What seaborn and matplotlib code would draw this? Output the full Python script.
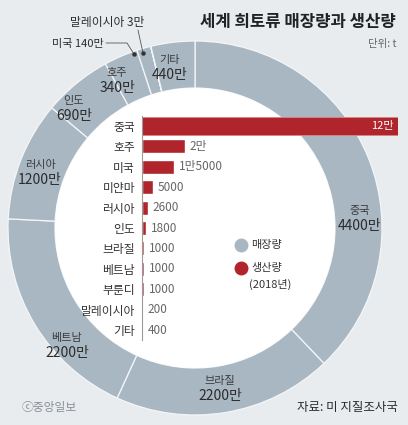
import numpy as np
import pandas as pd
import seaborn as sns
import matplotlib.pyplot as plt
from matplotlib.patches import Circle

# ---- data -------------------------------------------------------------
# rare-earth reserves (unit: 10,000 t), clockwise from 12 o'clock
reserve_countries = ['중국', '브라질', '베트남', '러시아', '인도', '호주', '미국', '말레이시아', '기타']
reserve_values = [4400, 2200, 2200, 1200, 690, 340, 140, 3, 440]
reserve_labels = ['4400만', '2200만', '2200만', '1200만', '690만', '340만', '140만', '3만', '440만']

# rare-earth production 2018 (unit: t)
prod_countries = ['중국', '호주', '미국', '미얀마', '러시아', '인도', '브라질', '베트남', '부룬디', '말레이시아', '기타']
prod_values = [120000, 20000, 15000, 5000, 2600, 1800, 1000, 1000, 1000, 200, 400]
prod_labels = ['12만', '2만', '1만5000', '5000', '2600', '1800', '1000', '1000', '1000', '200', '400']

# ---- style ------------------------------------------------------------
BG = '#e8ecef'
RING = '#a9b7c3'
RED = '#b0252b'
DARK = '#2b2b2b'

sns.set_theme(style='white')
plt.rcParams['font.family'] = ['Noto Sans CJK KR', 'DejaVu Sans']

W, H = 408, 425
fig = plt.figure(figsize=(W / 100, H / 100), dpi=100)
fig.patch.set_facecolor(BG)

# full-figure axes in pixel units (y measured from the top)
ax = fig.add_axes([0, 0, 1, 1])


def Y(y):
    return H - y


cx, cy = 195, Y(228)
R, ring_w = 187, 47
ax.pie(reserve_values, center=(cx, cy), radius=R, startangle=90, counterclock=False,
       colors=[RING] * len(reserve_values),
       wedgeprops=dict(width=ring_w, edgecolor='#f4f6f8', linewidth=0.9))
ax.add_patch(Circle((cx, cy), R - ring_w, facecolor='white', edgecolor='none', zorder=2))
ax.set_xlim(0, W)
ax.set_ylim(0, H)
ax.set_aspect('auto')
ax.axis('off')

# labels inside the ring
ring_text_pos = {
    '중국': (360, 218), '브라질': (220, 388), '베트남': (67, 345), '러시아': (40, 172),
    '인도': (74, 108), '호주': (117, 80), '기타': (170, 67),
}
for name, lab in zip(reserve_countries, reserve_labels):
    if name in ring_text_pos:
        x, y = ring_text_pos[name]
        ax.text(x, Y(y - 7), name, ha='center', va='center', fontsize=8, color='#3a3a3a', zorder=5)
        ax.text(x, Y(y + 8), lab, ha='center', va='center', fontsize=10, color=DARK, zorder=5)

# callouts for the two thin slices
ax.text(104, Y(44), '미국 ' + reserve_labels[6], ha='right', va='center', fontsize=8, color=DARK)
ax.plot([106, 127, 134], [Y(43), Y(43), Y(54)], color='#555', lw=0.6)
ax.plot(134, Y(54), 'o', ms=2.2, color='#333')
ax.text(107, Y(22), '말레이시아 ' + reserve_labels[7], ha='center', va='center', fontsize=8.5, color=DARK)
ax.plot([138, 143], [Y(30), Y(53)], color='#555', lw=0.6)
ax.plot(143, Y(53), 'o', ms=2.2, color='#333')

# title, unit, footer
ax.text(396, Y(22), '세계 희토류 매장량과 생산량', ha='right', va='center', fontsize=12,
        fontweight='bold', color='#222')
ax.text(396, Y(44), '단위: t', ha='right', va='center', fontsize=7.5, color='#666')
ax.text(22, Y(408), 'ⓒ중앙일보', ha='left', va='center', fontsize=8.5, color='#8a8f94')
ax.text(398, Y(408), '자료: 미 지질조사국', ha='right', va='center', fontsize=9, color=DARK)

# legend
ax.plot(241, Y(245), 'o', ms=9, color=RING)
ax.text(251, Y(245), '매장량', ha='left', va='center', fontsize=8, color='#333')
ax.plot(241, Y(268), 'o', ms=9, color=RED)
ax.text(251, Y(268), '생산량', ha='left', va='center', fontsize=8, color='#333')
ax.text(249, Y(284), '(2018년)', ha='left', va='center', fontsize=8, color='#333')

# ---- production bars ---------------------------------------------------
top, bottom = 115.8, 340.2
bx = fig.add_axes([142 / W, (H - bottom) / H, 256 / W, (bottom - top) / H])
df = pd.DataFrame({'country': prod_countries, 'value': prod_values})
sns.barplot(data=df, x='value', y='country', orient='h', color=RED, saturation=1,
            width=0.68, ax=bx)
bx.set_xlim(0, max(prod_values))
bx.set_ylim(len(prod_countries) - 0.5, -0.5)
bx.patch.set_alpha(0)
bx.set_xlabel('')
bx.set_ylabel('')
bx.set_xticks([])
for s in ['top', 'right', 'bottom']:
    bx.spines[s].set_visible(False)
bx.spines['left'].set_color('#9a9a9a')
bx.spines['left'].set_linewidth(0.8)
bx.tick_params(axis='y', length=0, pad=5, labelsize=8.5, labelcolor='#333')

# the leading bar is a bit taller
lead = bx.patches[0]
lead.set_y(-0.42)
lead.set_height(0.84)
lead.set_edgecolor('#d98585')
lead.set_linewidth(0.6)

for i, (v, lab) in enumerate(zip(prod_values, prod_labels)):
    if i == 0:
        bx.annotate(lab, (v, i), xytext=(-3, 0), textcoords='offset points',
                    ha='right', va='center', fontsize=8, color='white')
    else:
        bx.annotate(lab, (v, i), xytext=(3.5, 0), textcoords='offset points',
                    ha='left', va='center', fontsize=8.5, color='#666')

fig.savefig('out.png', dpi=100, facecolor=BG)
